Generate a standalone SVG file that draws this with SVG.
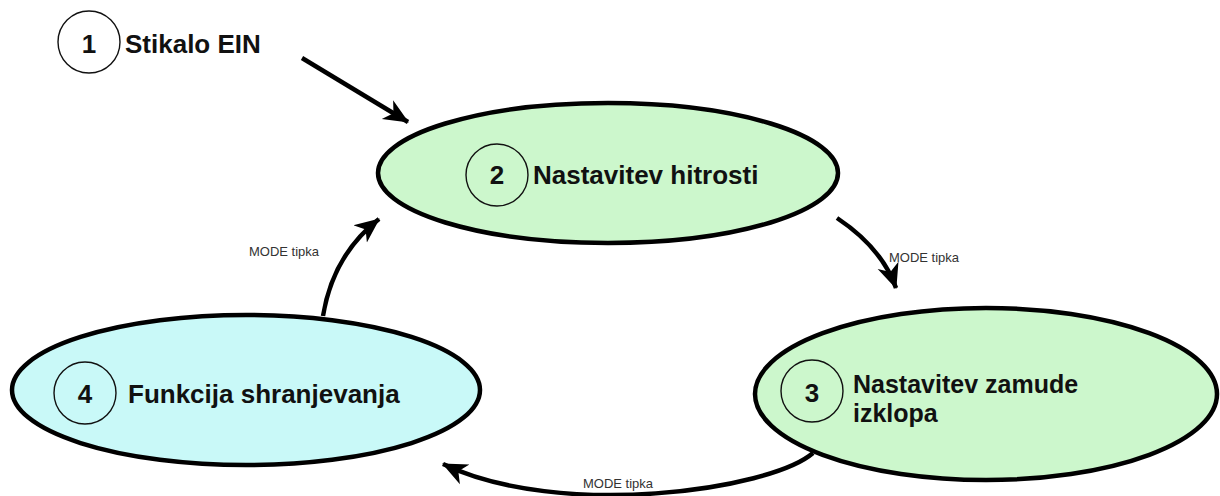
<svg xmlns="http://www.w3.org/2000/svg" width="1220" height="496" viewBox="0 0 1220 496">
<defs>
<style>
.ell{stroke:#000;stroke-width:4.5}
.green{fill:#ccf7cc}
.cyan{fill:#c9f9f8}
.num{fill:none;stroke:#111;stroke-width:1.4}
.big{font-family:"Liberation Sans",Arial,sans-serif;font-weight:bold;font-size:26px;fill:#111}
.mid{font-family:"Liberation Sans",Arial,sans-serif;font-weight:bold;font-size:25px;fill:#111}
.small{font-family:"Liberation Sans",Arial,sans-serif;font-size:13px;fill:#333}
.conn{fill:none;stroke:#000;stroke-width:4.5;stroke-linecap:butt}
</style>
<marker id="ah" markerUnits="userSpaceOnUse" markerWidth="26" markerHeight="24" viewBox="0 0 26 24" refX="24" refY="12" orient="auto">
<path d="M0,1 L25,12 L0,23 L7,12 z" fill="#000"/>
</marker>
</defs>
<rect width="1220" height="496" fill="#fff"/>
<g id="node1">
<circle cx="89" cy="42" r="31" fill="#fff" class="num"/>
<text x="89" y="53" text-anchor="middle" class="big">1</text>
<text x="125" y="53" class="big">Stikalo EIN</text>
</g>
<g id="node2">
<ellipse cx="608" cy="173" rx="230" ry="70" class="ell green"/>
<circle cx="497" cy="175" r="31" class="num"/>
<text x="497" y="184" text-anchor="middle" class="big">2</text>
<text x="533" y="184" class="big">Nastavitev hitrosti</text>
</g>
<g id="node3">
<ellipse cx="986" cy="394" rx="231" ry="86" class="ell green"/>
<circle cx="812" cy="391" r="31" class="num"/>
<text x="812" y="402" text-anchor="middle" class="big">3</text>
<text x="853" y="393" class="mid">Nastavitev zamude</text>
<text x="853" y="422" class="mid">izklopa</text>
</g>
<g id="node4">
<ellipse cx="246" cy="390" rx="234" ry="75" class="ell cyan"/>
<circle cx="85" cy="393" r="31" class="num"/>
<text x="85" y="403" text-anchor="middle" class="big">4</text>
<text x="128" y="403" class="big">Funkcija shranjevanja</text>
</g>
<g id="connectors">
<path d="M302,58 L408,122" class="conn" marker-end="url(#ah)"/>
<path d="M837,218 Q882,248 896,288" class="conn" marker-end="url(#ah)"/>
<path d="M323,316 Q333,255 379,219" class="conn" marker-end="url(#ah)"/>
<path d="M813,453 C770,490 560,520 443,464" class="conn" marker-end="url(#ah)"/>
<text x="889" y="262" class="small">MODE tipka</text>
<text x="249" y="256" class="small">MODE tipka</text>
<text x="583" y="488" class="small">MODE tipka</text>
</g>
</svg>
